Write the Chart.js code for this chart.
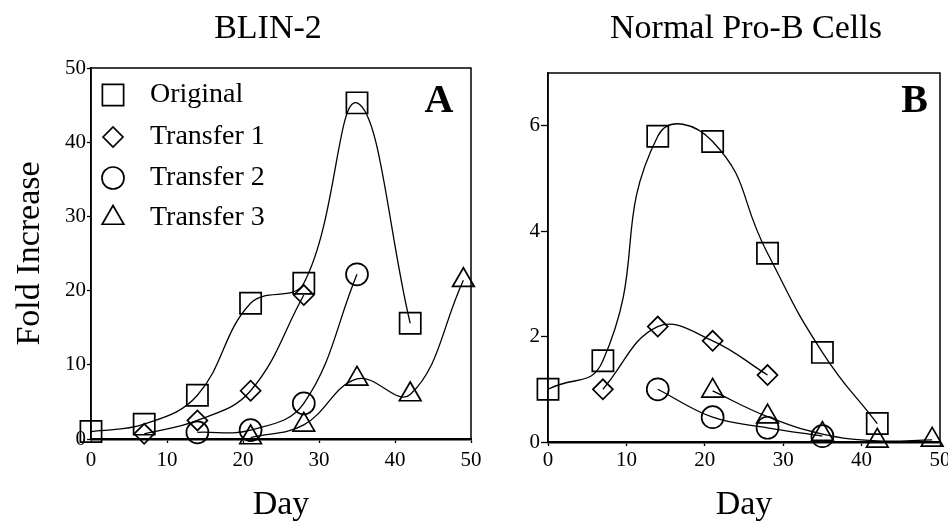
<!DOCTYPE html>
<html>
<head>
<meta charset="utf-8">
<script src="https://cdn.jsdelivr.net/npm/chart.js@4.4.1/dist/chart.umd.min.js"></script>
<style>
  html, body { margin: 0; padding: 0; background: #fff; overflow: hidden; }
  body { width: 948px; height: 523px; position: relative; }
  canvas { position: absolute; top: 0; }
  #chartA { left: 0; }
  #chartB { left: 490px; }
</style>
</head>
<body>
<canvas id="chartA" width="556" height="523"></canvas>
<canvas id="chartB" width="532" height="523"></canvas>
<script>
// days of culture (x values shared by every series)
const days = [0, 7, 14, 21, 28, 35, 42, 49];
const seriesNames = ['Original', 'Transfer 1', 'Transfer 2', 'Transfer 3'];
const pointStyles = ['rect', 'rectRot', 'circle', 'triangle'];
const pointSizes = [15, 10, 11, 12.5];

// BLIN-2 fold increase
const blinOriginal = [1.0, 2.0, 5.9, 18.3, 21.0, 45.3, 15.6, null];
const blinT1 = [null, 0.7, 2.5, 6.5, 19.4, null, null, null];
const blinT2 = [null, null, 0.9, 1.2, 4.8, 22.2, null, null];
const blinT3 = [null, null, null, 0.2, 1.9, 8.1, 6.0, 21.4];

// Normal Pro-B cells fold increase
const proOriginal = [1.0, 1.54, 5.8, 5.7, 3.58, 1.7, 0.35, null];
const proT1 = [null, 1.0, 2.19, 1.92, 1.27, null, null, null];
const proT2 = [null, null, 1.0, 0.47, 0.27, 0.11, null, null];
const proT3 = [null, null, null, 0.97, 0.48, 0.15, 0.02, 0.04];

// tick labels
const dayTicks = [0, 10, 20, 30, 40, 50];
const yTicksA = [0, 10, 20, 30, 40, 50];
const yTicksB = [0, 2, 4, 6];

const serif = '"Liberation Serif", "DejaVu Serif", serif';
const tickFont = { family: serif, size: 21 };
const axisTitleFont = { family: serif, size: 34, lineHeight: 1 };

function toPoints(vals) {
  return days.map((d, i) => ({ x: d, y: vals[i] }));
}

function buildDatasets(seriesVals, tension) {
  return seriesVals.map((vals, i) => ({
    label: seriesNames[i],
    data: toPoints(vals),
    borderColor: '#000',
    borderWidth: 1.3,
    pointStyle: pointStyles[i],
    pointRadius: pointSizes[i],
    pointHoverRadius: pointSizes[i],
    pointBorderWidth: 1.7,
    pointBorderColor: '#000',
    pointBackgroundColor: 'rgba(0,0,0,0)',
    tension: tension[i],
    clip: false
  }));
}

// frame, panel letter and the in-plot legend
const panelDecor = {
  id: 'panelDecor',
  afterDatasetsDraw(chart, args, opts) {
    const { ctx, chartArea: a } = chart;
    ctx.save();
    ctx.strokeStyle = '#000';
    ctx.lineWidth = 1.5;
    ctx.strokeRect(a.left, a.top, a.right - a.left, a.bottom - a.top);

    ctx.fillStyle = '#000';
    ctx.font = 'bold 40px ' + serif;
    ctx.textAlign = 'center';
    ctx.textBaseline = 'middle';
    ctx.fillText(opts.letter, a.right - opts.letterDx, a.top + opts.letterDy);

    if (opts.legend) {
      ctx.font = '28px ' + serif;
      ctx.textAlign = 'left';
      ctx.lineWidth = 1.7;
      const rows = [27, 69, 110, 150];
      chart.data.datasets.forEach((ds, i) => {
        const y = a.top + rows[i];
        ctx.fillStyle = 'rgba(0,0,0,0)';
        Chart.helpers.drawPoint(ctx, { pointStyle: ds.pointStyle, radius: ds.pointRadius, rotation: 0, borderWidth: 1.7 }, a.left + 22, y);
        ctx.fillStyle = '#000';
        ctx.fillText(ds.label, a.left + 59, y);
      });
    }
    ctx.restore();
  }
};

function makeChart(id, p) {
  return new Chart(document.getElementById(id), {
    type: 'line',
    data: { datasets: buildDatasets(p.series, p.tension) },
    options: {
      responsive: false,
      animation: false,
      events: [],
      layout: { padding: { left: 0, right: 20, top: 0, bottom: 0 } },
      plugins: {
        legend: { display: false },
        tooltip: { enabled: false },
        title: {
          display: true,
          text: p.title,
          color: '#000',
          font: { family: serif, size: 34, weight: 'normal', lineHeight: 1 },
          padding: { top: 12, bottom: p.titleGap }
        },
        panelDecor: { letter: p.letter, letterDx: p.letterDx, letterDy: p.letterDy, legend: p.legend }
      },
      scales: {
        x: {
          type: 'linear',
          min: 0,
          max: 50,
          afterBuildTicks: s => { s.ticks = dayTicks.map(v => ({ value: v })); },
          afterFit: s => { s.height = p.xHeight; },
          grid: { display: true, drawOnChartArea: false, drawTicks: true, tickLength: 4, tickColor: '#000', tickWidth: 1.3 },
          border: { display: true, color: '#000', width: 2.5 },
          ticks: { color: '#000', font: tickFont, padding: p.xPad, maxRotation: 0 },
          title: { display: true, text: 'Day', color: '#000', font: axisTitleFont, padding: { top: 0, bottom: 1 } }
        },
        y: {
          type: 'linear',
          min: 0,
          max: p.yMax,
          afterBuildTicks: s => { s.ticks = p.yTicks.map(v => ({ value: v })); },
          afterFit: s => { s.width = p.yWidth; },
          grid: { display: true, drawOnChartArea: false, drawTicks: true, tickLength: p.yTickLen, tickColor: '#000', tickWidth: 1.3 },
          border: { display: true, color: '#000', width: 1.5 },
          ticks: { color: '#000', font: tickFont, padding: 1 },
          title: { display: p.yTitle !== '', text: p.yTitle, color: '#000', font: axisTitleFont, padding: { top: 13, bottom: 0 } }
        },
        // empty right-hand margin so the panel title sits where the original has it
        yRight: {
          type: 'linear',
          position: 'right',
          min: 0,
          max: 1,
          afterFit: s => { s.width = p.rightGap; },
          ticks: { display: false },
          grid: { display: false },
          border: { display: false }
        }
      }
    },
    plugins: [panelDecor]
  });
}

makeChart('chartA', {
  series: [blinOriginal, blinT1, blinT2, blinT3],
  tension: [0.4, 0.4, 0.4, 0.4],
  title: 'BLIN-2',
  titleGap: 22,
  rightGap: 65,
  xHeight: 84,
  xPad: 5,
  yWidth: 91,
  yMax: 50,
  yTicks: yTicksA,
  yTickLen: 4,
  yTitle: 'Fold Increase',
  letter: 'A',
  letterDx: 32,
  letterDy: 34,
  legend: true
});

makeChart('chartB', {
  series: [proOriginal, proT1, proT2, proT3],
  tension: [0.5, 0.4, 0.4, 0.4],
  title: 'Normal Pro-B Cells',
  titleGap: 27,
  rightGap: 62,
  xHeight: 81,
  xPad: 2,
  yWidth: 58,
  yMax: 7,
  yTicks: yTicksB,
  yTickLen: 7,
  yTitle: '',
  letter: 'B',
  letterDx: 25.5,
  letterDy: 28.5,
  legend: false
});
</script>
</body>
</html>
